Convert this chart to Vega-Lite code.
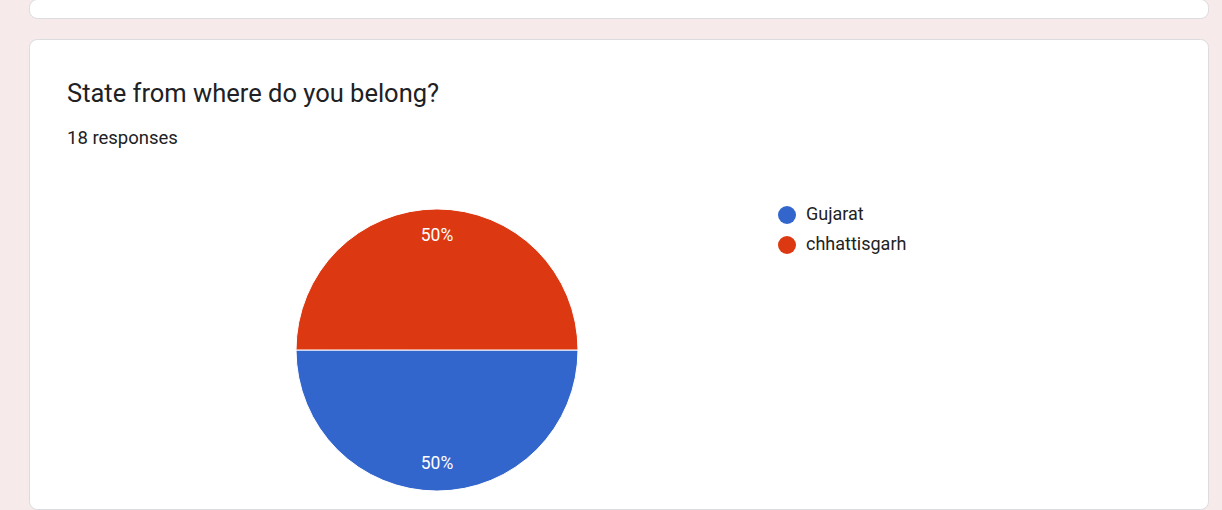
{
  "$schema": "https://vega.github.io/schema/vega-lite/v6.json",
  "background": "#f7eaea",
  "padding": {"left": 28, "top": -2, "right": 13, "bottom": 0},
  "spacing": 19,
  "config": {
    "font": "Roboto",
    "view": {"fill": "white", "stroke": "#dadce0", "strokeWidth": 1, "cornerRadius": 8}
  },
  "vconcat": [
    {
      "width": 1179,
      "height": 19,
      "view": {"fill": "white", "stroke": "#dadce0", "strokeWidth": 1, "cornerRadius": 8},
      "data": {"values": [{"card": "previous question"}]},
      "mark": {"type": "point", "opacity": 0},
      "encoding": {}
    },
    {
      "width": 1179,
      "height": 470,
      "view": {"fill": "white", "stroke": "#dadce0", "strokeWidth": 1, "cornerRadius": 8},
      "data": {
        "values": [
          {"state": "Gujarat", "responses": 9, "idx": 1, "label": "50%"},
          {"state": "chhattisgarh", "responses": 9, "idx": 2, "label": "50%"}
        ]
      },
      "title": {
        "text": "State from where do you belong?",
        "subtitle": "18 responses",
        "anchor": "start",
        "frame": "group",
        "orient": "top",
        "offset": -108,
        "dx": 38,
        "font": "Roboto",
        "fontSize": 25.5,
        "fontWeight": "normal",
        "color": "#202124",
        "subtitleFont": "Roboto",
        "subtitleFontSize": 18.5,
        "subtitleColor": "#202124",
        "subtitlePadding": 21
      },
      "encoding": {
        "theta": {
          "field": "responses",
          "type": "quantitative",
          "stack": true,
          "scale": {"range": [1.5708, 7.854]}
        },
        "order": {"field": "idx", "type": "quantitative"}
      },
      "layer": [
        {
          "mark": {"type": "arc", "outerRadius": 141, "x": 408, "y": 311, "stroke": "white", "strokeWidth": 1},
          "encoding": {
            "color": {
              "field": "state",
              "type": "nominal",
              "scale": {"domain": ["Gujarat", "chhattisgarh"], "range": ["#3366cc", "#dc3912"]},
              "legend": {
                "title": null,
                "orient": "none",
                "legendX": 749,
                "legendY": 207,
                "padding": 0,
                "symbolType": "circle",
                "symbolSize": 324,
                "symbolStrokeWidth": 0,
                "labelFont": "Roboto",
                "labelFontSize": 18,
                "labelColor": "#222222",
                "labelOffset": 10,
                "rowPadding": 12
              }
            }
          }
        },
        {
          "mark": {"type": "text", "radius": 114, "x": 408, "y": 311, "fill": "white", "fontSize": 17.5, "font": "Roboto", "baseline": "middle", "align": "center"},
          "encoding": {
            "text": {"field": "label", "type": "nominal"}
          }
        }
      ]
    }
  ]
}
